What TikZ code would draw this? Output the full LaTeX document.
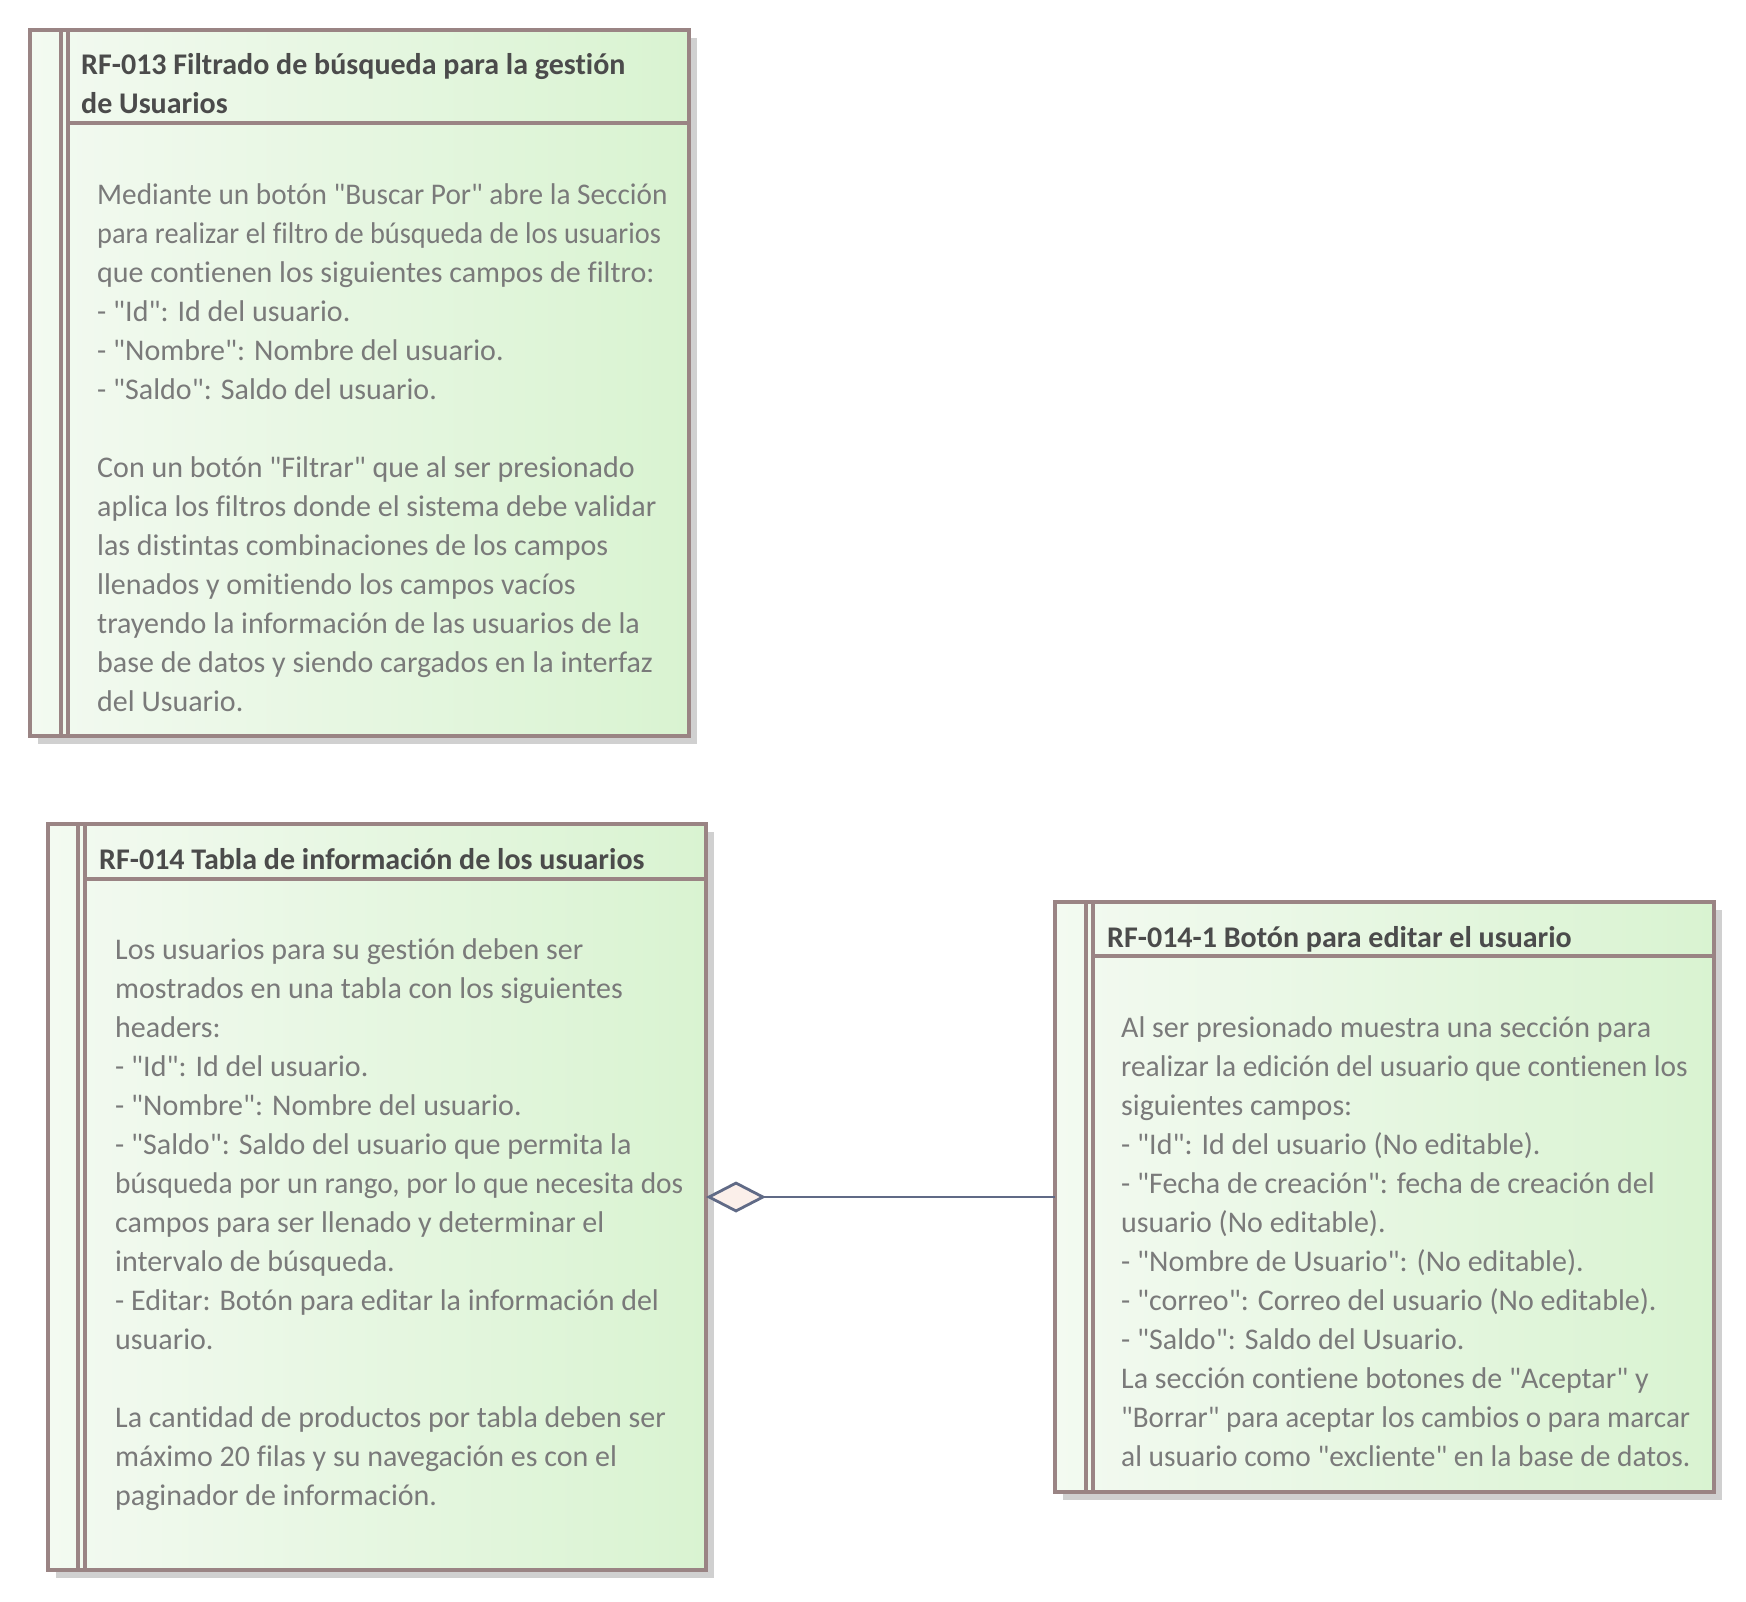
\documentclass[tikz,border=0pt]{standalone}
\usepackage{fontspec}
\usepackage{graphicx}
\setmainfont{Carlito}[Ligatures={TeXOff,NoCommon}]
\usetikzlibrary{shadows,positioning,arrows.meta}

\definecolor{reqborder}{HTML}{9A8484}
\definecolor{reqleft}{HTML}{F3FAF1}
\definecolor{reqright}{HTML}{D9F3D1}
\definecolor{reqshadow}{HTML}{D0D0D0}
\definecolor{titlegray}{HTML}{4B4B4B}
\definecolor{bodygray}{HTML}{7A7A7A}
\definecolor{aggline}{HTML}{606A86}
\definecolor{aggfill}{HTML}{FBEFEA}

% narrow a line the way the tool squeezes it into the box
\newcommand{\squeezeline}[2]{\scalebox{#1}[1]{#2}}

\tikzset{
  reqbox/.style={draw=reqborder, line width=3.2pt, left color=reqleft, right color=reqright,
    drop shadow={shadow xshift=8pt, shadow yshift=-8pt, fill=reqshadow, opacity=1},
    anchor=north west, inner sep=0pt, outer sep=0pt},
  reqline/.style={draw=reqborder, line width=3.2pt},
  reqtitle/.style={anchor=north west, inner sep=0pt, align=left, text=titlegray,
    font=\fontsize{30}{39}\selectfont\bfseries},
  reqtext/.style={anchor=north west, inner sep=0pt, align=left, text=bodygray,
    font=\fontsize{30}{39}\selectfont},
  aggregation/.style={draw=aggline, line width=2.8pt,
    -{Diamond[length=60pt, width=31pt, fill=aggfill, line width=2.8pt]}}
}

\begin{document}
\begin{tikzpicture}[x=1pt, y=-1pt]
    \useasboundingbox (0,0) rectangle (1746,1602);

    % Requirement boxes
    \node[reqbox, minimum width=659pt, minimum height=706pt] (rf13) at (30,30) {};
    \node[reqbox, minimum width=658pt, minimum height=746pt] (rf14) at (48,824) {};
    \node[reqbox, minimum width=659pt, minimum height=590pt] (rf141) at (1055,902) {};

    % Side bars and header lines
    \draw[reqline] ([xshift=31pt]rf13.north west) -- ([xshift=31pt]rf13.south west);
    \draw[reqline] ([xshift=38pt]rf13.north west) -- ([xshift=38pt]rf13.south west);
    \draw[reqline] ([xshift=37pt, yshift=-93pt]rf13.north west) -- ([yshift=-93pt]rf13.north east);

    \draw[reqline] ([xshift=30pt]rf14.north west) -- ([xshift=30pt]rf14.south west);
    \draw[reqline] ([xshift=37pt]rf14.north west) -- ([xshift=37pt]rf14.south west);
    \draw[reqline] ([xshift=36pt, yshift=-55pt]rf14.north west) -- ([yshift=-55pt]rf14.north east);

    \draw[reqline] ([xshift=31pt]rf141.north west) -- ([xshift=31pt]rf141.south west);
    \draw[reqline] ([xshift=38pt]rf141.north west) -- ([xshift=38pt]rf141.south west);
    \draw[reqline] ([xshift=37pt, yshift=-54pt]rf141.north west) -- ([yshift=-54pt]rf141.north east);

    % Titles
    \node[reqtitle] (rf13title) at ([xshift=51pt, yshift=-23pt]rf13.north west)
        {RF-013 Filtrado de búsqueda para la gestión\\de Usuarios};
    \node[reqtitle] (rf14title) at ([xshift=51pt, yshift=-24pt]rf14.north west)
        {RF-014 Tabla de información de los usuarios};
    \node[reqtitle] (rf141title) at ([xshift=52pt, yshift=-24pt]rf141.north west)
        {RF-014-1 Botón para editar el usuario};

    % Descriptions
    \node[reqtext] (rf13text) at ([xshift=67pt, yshift=-153pt]rf13.north west)
        {\squeezeline{0.975}{Mediante un botón "Buscar Por" abre la Sección}\\
         \squeezeline{0.945}{para realizar el filtro de búsqueda de los usuarios}\\
         que contienen los siguientes campos de filtro:\\
         - "Id": Id del usuario.\\
         - "Nombre": Nombre del usuario.\\
         - "Saldo": Saldo del usuario.\\
         ~\\
         Con un botón "Filtrar" que al ser presionado\\
         aplica los filtros donde el sistema debe validar\\
         las distintas combinaciones de los campos\\
         llenados y omitiendo los campos vacíos\\
         trayendo la información de las usuarios de la\\
         base de datos y siendo cargados en la interfaz\\
         del Usuario.};
    \node[reqtext] (rf14text) at ([xshift=67pt, yshift=-114pt]rf14.north west)
        {Los usuarios para su gestión deben ser\\
         mostrados en una tabla con los siguientes\\
         headers:\\
         - "Id": Id del usuario.\\
         - "Nombre": Nombre del usuario.\\
         - "Saldo": Saldo del usuario que permita la\\
         \squeezeline{0.98}{búsqueda por un rango, por lo que necesita dos}\\
         campos para ser llenado y determinar el\\
         intervalo de búsqueda.\\
         - Editar: Botón para editar la información del\\
         usuario.\\
         ~\\
         La cantidad de productos por tabla deben ser\\
         máximo 20 filas y su navegación es con el\\
         paginador de información.};
    \node[reqtext] (rf141text) at ([xshift=66pt, yshift=-114pt]rf141.north west)
        {Al ser presionado muestra una sección para\\
         \squeezeline{0.98}{realizar la edición del usuario que contienen los}\\
         siguientes campos:\\
         - "Id": Id del usuario (No editable).\\
         - "Fecha de creación": fecha de creación del\\
         usuario (No editable).\\
         - "Nombre de Usuario": (No editable).\\
         - "correo": Correo del usuario (No editable).\\
         - "Saldo": Saldo del Usuario.\\
         La sección contiene botones de "Aceptar" y\\
         \squeezeline{0.97}{"Borrar" para aceptar los cambios o para marcar}\\
         \squeezeline{0.98}{al usuario como "excliente" en la base de datos.}};

    % Aggregation
    \draw[aggregation] (rf141.west) -- (rf14.east);
\end{tikzpicture}
\end{document}
